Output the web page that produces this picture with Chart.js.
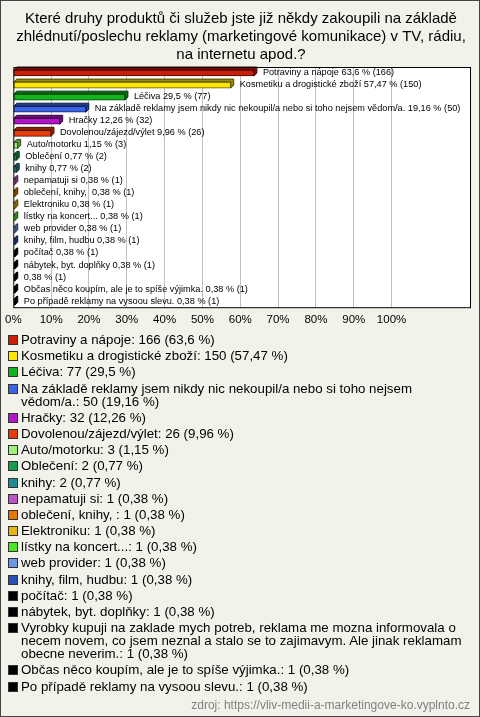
<!DOCTYPE html>
<html>
<head>
<meta charset="utf-8">
<script src="https://cdn.jsdelivr.net/npm/chart.js@4.4.1/dist/chart.umd.min.js"></script>
<style>
  html, body { margin: 0; padding: 0; background: #f3f2ea; }
  #frame { position: absolute; left: 0; top: 0; width: 480px; height: 717px; box-sizing: border-box; border: 1px solid #444; }
  #wrap { position: absolute; left: 0; top: 0; width: 480px; height: 338px; }
  #legend { position: absolute; left: 8px; top: 333px; width: 458px; font-family: "Liberation Sans", Arial, sans-serif; font-size: 13.3px; color: #000; }
  .item { display: flex; align-items: flex-start; margin-bottom: 3.2px; }
  .box { width: 8px; height: 8px; border: 1px solid #333; margin-top: 2px; margin-right: 3px; flex: none; }
  .txt { line-height: 13px; }
  #src { position: absolute; right: 10px; top: 698px; font-family: "Liberation Sans", Arial, sans-serif; font-size: 12px; color: #808080; }
</style>
</head>
<body>
<div id="frame"></div>
<div id="wrap"><canvas id="chart" width="480" height="338"></canvas></div>
<div id="legend"></div>
<div id="src">zdroj: https://vliv-medii-a-marketingove-ko.vyplnto.cz</div>
<script>
// data
const categories = [
  'Potraviny a nápoje',
  'Kosmetiku a drogistické zboží',
  'Léčiva',
  'Na základě reklamy jsem nikdy nic nekoupil/a nebo si toho nejsem vědom/a.',
  'Hračky',
  'Dovolenou/zájezd/výlet',
  'Auto/motorku',
  'Oblečení',
  'knihy',
  'nepamatuji si',
  'oblečení, knihy, ',
  'Elektroniku',
  'lístky na koncert...',
  'web provider',
  'knihy, film, hudbu',
  'počítač',
  'nábytek, byt. doplňky',
  'Vyrobky kupuji na zaklade mych potreb, reklama me mozna informovala o necem novem, co jsem neznal a stalo se to zajimavym. Ale jinak reklamam obecne neverim.',
  'Občas něco koupím, ale je to spíše výjimka.',
  'Po případě reklamy na vysoou slevu.'
];
// names as printed next to the bars (the long one is left out there)
const barNames = categories.map((c, i) => i === 17 ? '' : c);
const counts = [166, 150, 77, 50, 32, 26, 3, 2, 2, 1, 1, 1, 1, 1, 1, 1, 1, 1, 1, 1];
const percents = [63.6, 57.47, 29.5, 19.16, 12.26, 9.96, 1.15, 0.77, 0.77, 0.38, 0.38, 0.38, 0.38, 0.38, 0.38, 0.38, 0.38, 0.38, 0.38, 0.38];
const colors = ['#c81e0a', '#ffe600', '#14b41e', '#3c64e6', '#b414c8', '#e63c0a', '#a0f078', '#14a050', '#1e8c96', '#c050c8',
  '#e67800', '#e6b414', '#50e628', '#6e96e6', '#2850b4', '#000000', '#000000', '#000000', '#000000', '#000000'];
const xTicks = [0, 10, 20, 30, 40, 50, 60, 70, 80, 90, 100];

const titleLines = [
  'Které druhy produktů či služeb jste již někdy zakoupili na základě',
  'zhlédnutí/poslechu reklamy (marketingové komunikace) v TV, rádiu,',
  'na internetu apod.?'
];

const fmt = v => String(v).replace('.', ',');

function shade(hex, f) {
  let n = parseInt(hex.slice(1), 16);
  let r = Math.round(((n >> 16) & 255) * f), g = Math.round(((n >> 8) & 255) * f), b = Math.round((n & 255) * f);
  return 'rgb(' + r + ',' + g + ',' + b + ')';
}

const DEPTH = 3;

// white plot area + frame
const plotBg = {
  id: 'plotBg',
  beforeDraw(chart) {
    const a = chart.chartArea, ctx = chart.ctx;
    ctx.save();
    ctx.fillStyle = '#fff';
    ctx.fillRect(a.left, a.top, a.right - a.left, a.bottom - a.top);
    ctx.restore();
  },
  afterDraw(chart) {
    const a = chart.chartArea, ctx = chart.ctx;
    ctx.save();
    ctx.strokeStyle = '#000';
    ctx.lineWidth = 1;
    ctx.strokeRect(a.left + 0.5, a.top + 0.5, a.right - a.left - 1, a.bottom - a.top - 1);
    ctx.restore();
  }
};

// back faces of the 3d bars, then labels after the bars
const bars3d = {
  id: 'bars3d',
  beforeDatasetsDraw(chart) {
    const ctx = chart.ctx;
    const meta = chart.getDatasetMeta(0);
    ctx.save();
    meta.data.forEach((bar, i) => {
      const p = bar.getProps(['x', 'y', 'base', 'height'], true);
      const top = p.y - p.height / 2;
      ctx.fillStyle = shade(colors[i], 0.6);
      ctx.strokeStyle = shade(colors[i], 0.3);
      ctx.lineWidth = 1;
      ctx.beginPath();
      ctx.moveTo(p.base, top);
      ctx.lineTo(p.base + DEPTH, top - DEPTH);
      ctx.lineTo(p.x + DEPTH, top - DEPTH);
      ctx.lineTo(p.x + DEPTH, top - DEPTH + p.height);
      ctx.lineTo(p.x, top + p.height);
      ctx.lineTo(p.x, top);
      ctx.closePath();
      ctx.fill();
      ctx.stroke();
    });
    ctx.restore();
  },
  afterDatasetsDraw(chart) {
    const ctx = chart.ctx;
    const meta = chart.getDatasetMeta(0);
    ctx.save();
    ctx.font = '9.2px "Liberation Sans", Arial, sans-serif';
    ctx.fillStyle = '#000';
    ctx.textBaseline = 'middle';
    meta.data.forEach((bar, i) => {
      const p = bar.getProps(['x', 'y'], true);
      const txt = (barNames[i] ? barNames[i] + ' ' : '') + fmt(percents[i]) + ' % (' + counts[i] + ')';
      ctx.fillText(txt, p.x + 9, p.y - 1);
    });
    ctx.restore();
  }
};

const chart = new Chart(document.getElementById('chart'), {
  type: 'bar',
  data: {
    labels: categories,
    datasets: [{
      data: percents,
      backgroundColor: colors,
      borderColor: colors.map(c => shade(c, 0.35)),
      borderWidth: 1,
      borderSkipped: false,
      barThickness: 6
    }]
  },
  options: {
    indexAxis: 'y',
    responsive: false,
    animation: false,
    layout: { padding: { left: 11, right: 9, top: 0, bottom: 6 } },
    plugins: {
      legend: { display: false },
      tooltip: { enabled: false },
      title: {
        display: true,
        text: titleLines,
        color: '#000',
        font: { family: '"Liberation Sans", Arial, sans-serif', size: 15, weight: 'normal', lineHeight: 1.2 },
        padding: { top: 10, bottom: 3 }
      }
    },
    scales: {
      x: {
        min: 0,
        max: 121,
        afterBuildTicks(axis) {
          axis.ticks = xTicks.map(v => ({ value: v }));
        },
        border: { display: false },
        grid: {
          drawTicks: false,
          color: c => (c.tick && c.tick.value > 0 && c.tick.value <= 100) ? '#c0c0c0' : 'rgba(0,0,0,0)'
        },
        ticks: {
          padding: 5,
          color: '#000',
          maxRotation: 0,
          autoSkip: false,
          font: { family: '"Liberation Sans", Arial, sans-serif', size: 11.5 },
          callback: v => v + '%'
        }
      },
      y: { display: false }
    }
  },
  plugins: [plotBg, bars3d]
});

// legend built from the chart data
const leg = document.getElementById('legend');
chart.data.labels.forEach((name, i) => {
  const it = document.createElement('div');
  it.className = 'item';
  const b = document.createElement('span');
  b.className = 'box';
  b.style.background = colors[i];
  const t = document.createElement('span');
  t.className = 'txt';
  t.textContent = name + ': ' + counts[i] + ' (' + fmt(percents[i]) + ' %)';
  it.appendChild(b);
  it.appendChild(t);
  leg.appendChild(it);
});
</script>
</body>
</html>
